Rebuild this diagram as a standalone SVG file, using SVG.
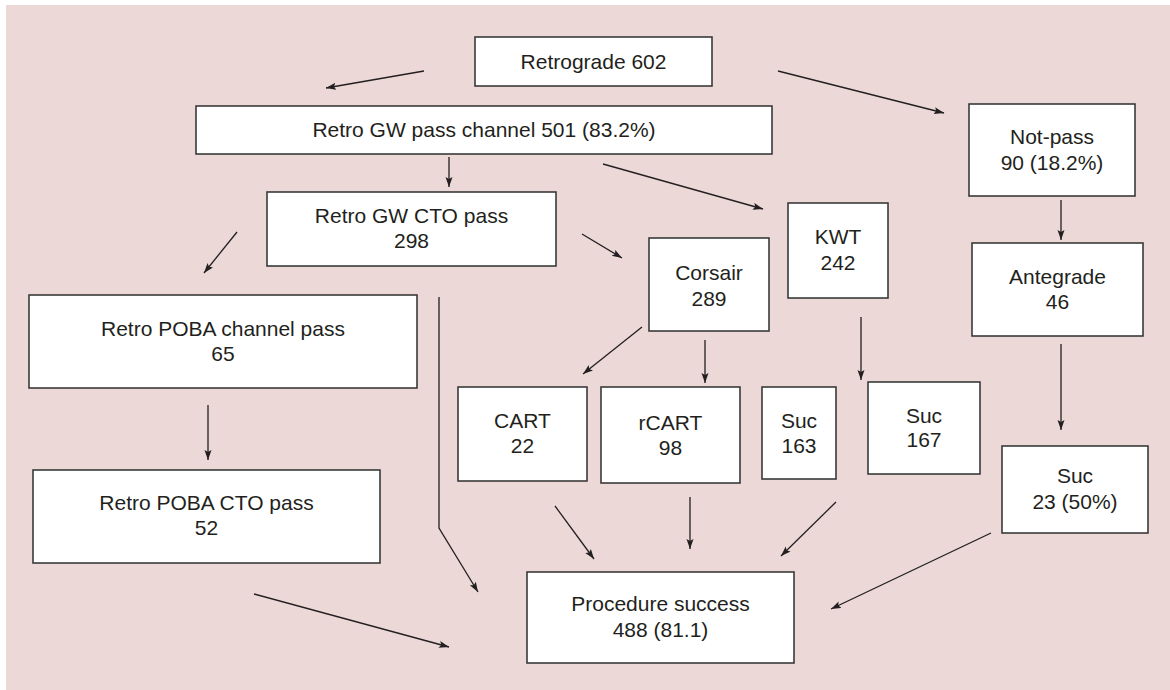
<svg xmlns="http://www.w3.org/2000/svg" width="1170" height="690" viewBox="0 0 1170 690">
<style>
.box{fill:#fff;stroke:#3a3a3a;stroke-width:1.6}
.t{font-family:"Liberation Sans",Arial,sans-serif;font-size:21px;fill:#231f20;text-anchor:middle}
.c{stroke:#231f20;stroke-width:1.3;fill:none}
</style>
<defs>
<marker id="ah" markerUnits="userSpaceOnUse" markerWidth="11" markerHeight="8" refX="10" refY="3.5" orient="auto">
<path d="M0,0 L10,3.5 L0,7 L2,3.5 z" fill="#231f20"/>
</marker>
</defs>
<rect x="0" y="0" width="1170" height="690" fill="#fff"/>
<rect x="6" y="5" width="1164" height="685" fill="#EBD8D7"/>
<g id="connectors" class="c" marker-end="url(#ah)">
<line x1="424" y1="71" x2="326" y2="88"/>
<line x1="778" y1="71" x2="944" y2="113"/>
<line x1="449" y1="157" x2="449" y2="187"/>
<line x1="603" y1="164" x2="763" y2="209"/>
<line x1="237" y1="232" x2="204" y2="273"/>
<line x1="582" y1="234" x2="622" y2="258"/>
<polyline points="439,297 439,528 478,592"/>
<line x1="208" y1="405" x2="208" y2="460"/>
<line x1="254" y1="594" x2="449" y2="647"/>
<line x1="642" y1="327" x2="583" y2="374"/>
<line x1="705" y1="340" x2="705" y2="383"/>
<line x1="861" y1="317" x2="861" y2="380"/>
<line x1="1061" y1="200" x2="1061" y2="240"/>
<line x1="1061" y1="344" x2="1061" y2="430"/>
<line x1="555" y1="506" x2="594" y2="559"/>
<line x1="690" y1="497" x2="690" y2="549"/>
<line x1="836" y1="502" x2="781" y2="556"/>
<line x1="991" y1="533" x2="831" y2="609"/>
</g>
<g id="retrograde"><rect class="box" x="475" y="37" width="237" height="49"/><text class="t" x="593.5" y="69">Retrograde 602</text></g>
<g id="gw-pass-channel"><rect class="box" x="196" y="106" width="576" height="48"/><text class="t" x="484" y="137">Retro GW pass channel 501 (83.2%)</text></g>
<g id="gw-cto-pass"><rect class="box" x="267" y="192" width="289" height="74"/><text class="t" x="411.5" y="223">Retro GW CTO pass</text><text class="t" x="411.5" y="248">298</text></g>
<g id="not-pass"><rect class="box" x="969" y="104" width="166" height="92"/><text class="t" x="1052" y="144">Not-pass</text><text class="t" x="1052" y="170">90 (18.2%)</text></g>
<g id="kwt"><rect class="box" x="788" y="203" width="100" height="95"/><text class="t" x="838" y="244">KWT</text><text class="t" x="838" y="270">242</text></g>
<g id="corsair"><rect class="box" x="649" y="238" width="120" height="93"/><text class="t" x="709" y="280">Corsair</text><text class="t" x="709" y="306">289</text></g>
<g id="antegrade"><rect class="box" x="972" y="243" width="171" height="93"/><text class="t" x="1057.5" y="284">Antegrade</text><text class="t" x="1057.5" y="309">46</text></g>
<g id="poba-channel-pass"><rect class="box" x="29" y="295" width="388" height="93"/><text class="t" x="223" y="336">Retro POBA channel pass</text><text class="t" x="223" y="361">65</text></g>
<g id="poba-cto-pass"><rect class="box" x="33" y="470" width="347" height="93"/><text class="t" x="206.5" y="510">Retro POBA CTO pass</text><text class="t" x="206.5" y="535">52</text></g>
<g id="cart"><rect class="box" x="458" y="387" width="129" height="94"/><text class="t" x="522.5" y="428">CART</text><text class="t" x="522.5" y="453">22</text></g>
<g id="rcart"><rect class="box" x="601" y="387" width="139" height="96"/><text class="t" x="670.5" y="430">rCART</text><text class="t" x="670.5" y="455">98</text></g>
<g id="suc-163"><rect class="box" x="762" y="387" width="74" height="92"/><text class="t" x="799" y="428">Suc</text><text class="t" x="799" y="453">163</text></g>
<g id="suc-167"><rect class="box" x="868" y="382" width="112" height="92"/><text class="t" x="924" y="423">Suc</text><text class="t" x="924" y="447">167</text></g>
<g id="suc-23"><rect class="box" x="1002" y="446" width="146" height="87"/><text class="t" x="1075" y="483">Suc</text><text class="t" x="1075" y="509">23 (50%)</text></g>
<g id="procedure-success"><rect class="box" x="527" y="572" width="267" height="91"/><text class="t" x="660.5" y="611">Procedure success</text><text class="t" x="660.5" y="637">488 (81.1)</text></g>
</svg>
